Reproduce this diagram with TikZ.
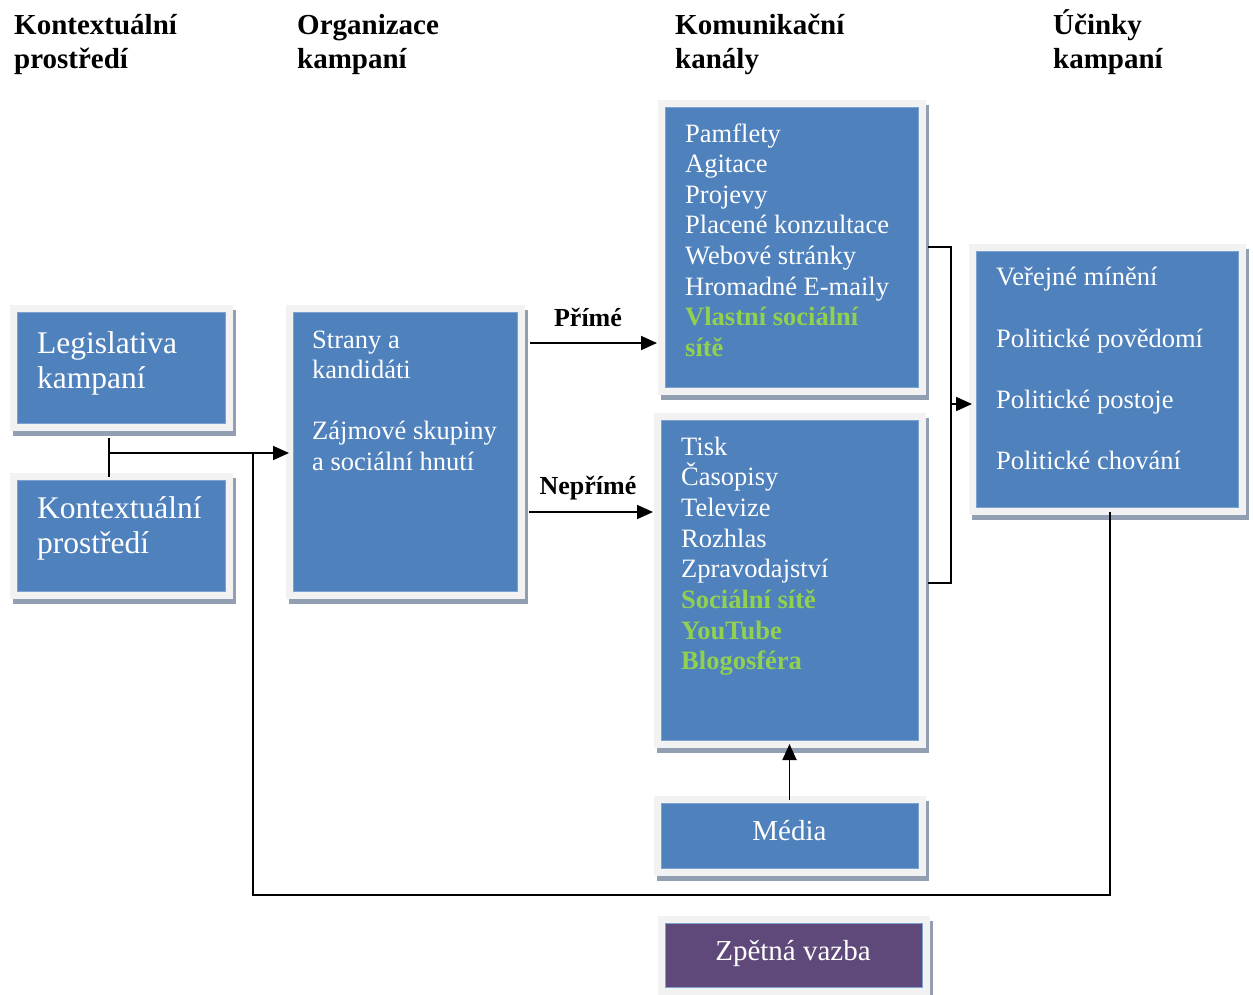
\documentclass[tikz,border=0pt]{standalone}
\usepackage{fontspec}
\setmainfont{Liberation Serif}
\usetikzlibrary{arrows.meta,calc,fit}
\definecolor{boxblue}{HTML}{4F81BD}
\definecolor{boxedge}{HTML}{7DA2D1}
\definecolor{framegray}{HTML}{F2F2F2}
\definecolor{shadowc}{HTML}{929FB3}
\definecolor{purplebox}{HTML}{5F497A}
\definecolor{greentext}{HTML}{92D050}
\newcommand\mypanel[6]{%
  \fill[shadowc] (#2-7.5+3,#3-7.5+5) rectangle (#4+7.5+3,#5+7.5+5);
  \fill[framegray] (#2-7.5,#3-7.5) rectangle (#4+7.5,#5+7.5);
  \node[fit={(#2,#3)(#4,#5)}, inner sep=0pt, outer sep=0pt, fill=#6, draw=boxedge, line width=0.8pt] (#1) {};
}
\tikzset{
  txt/.style={font=\fontsize{26.5}{30.6}\selectfont, text=white, inner sep=0pt, anchor=base west},
  gtxt/.style={font=\fontsize{26.5}{30.6}\selectfont\bfseries, text=greentext, inner sep=0pt, anchor=base west},
  bigtxt/.style={font=\fontsize{31.5}{35}\selectfont, text=white, inner sep=0pt, anchor=base west},
  midtxt/.style={font=\fontsize{29}{33}\selectfont, text=white, inner sep=0pt, anchor=base},
  head/.style={font=\fontsize{29}{34}\selectfont\bfseries, text=black, inner sep=0pt, anchor=base west},
  lab/.style={font=\fontsize{26}{30}\selectfont\bfseries, text=black, inner sep=0pt, anchor=base},
  conn/.style={line width=1.8pt, black},
  arr/.style={conn, -{Triangle[length=16pt,width=14pt]}}
}
\begin{document}
\begin{tikzpicture}[x=1pt,y=-1pt]
\useasboundingbox (0,0) rectangle (1253,994);
\fill[white] (0,0) rectangle (1253,994);
% headers
\node[head] (h1a) at (14,34.3) {Kontextuální};
\node[head] (h1b) at (14,68) {prostředí};
\node[head] (h2a) at (297,34.3) {Organizace};
\node[head] (h2b) at (297,68) {kampaní};
\node[head] (h3a) at (675,34.3) {Komunikační};
\node[head] (h3b) at (675,68) {kanály};
\node[head] (h4a) at (1053,34.3) {Účinky};
\node[head] (h4b) at (1053,68) {kampaní};
% panels
\mypanel{leg}{17}{312}{225}{423}{boxblue}
\mypanel{kon}{17}{480}{225}{591}{boxblue}
\mypanel{org}{293}{312}{517}{591}{boxblue}
\mypanel{dir}{665}{107}{918}{387}{boxblue}
\mypanel{ind}{661}{420}{918}{740}{boxblue}
\mypanel{eff}{976}{251}{1238}{507}{boxblue}
\mypanel{med}{661}{803}{918}{868}{boxblue}
\mypanel{fbk}{665}{923}{922}{987}{purplebox}
% panel texts
\node[bigtxt] (leg1) at (37,353.3) {Legislativa};
\node[bigtxt] (leg2) at (37,388.3) {kampaní};
\node[bigtxt] (kon1) at (37,518) {Kontextuální};
\node[bigtxt] (kon2) at (37,553) {prostředí};
\node[txt] (org1) at (312,348) {Strany a};
\node[txt] (org2) at (312,378.6) {kandidáti};
\node[txt] (org3) at (312,439.8) {Zájmové skupiny};
\node[txt] (org4) at (312,470.4) {a sociální hnutí};
\foreach \t [count=\i from 0] in {Pamflety,Agitace,Projevy,Placené konzultace,Webové stránky,Hromadné E-maily}
  \node[txt] (dir\i) at (685,{142+30.6*\i}) {\t};
\node[gtxt] (dir6) at (685,325.6) {Vlastní sociální};
\node[gtxt] (dir7) at (685,356.2) {sítě};
\foreach \t [count=\i from 0] in {Tisk,Časopisy,Televize,Rozhlas,Zpravodajství}
  \node[txt] (ind\i) at (681,{455+30.7*\i}) {\t};
\node[gtxt] (ind5) at (681,608.5) {Sociální sítě};
\node[gtxt] (ind6) at (681,639.2) {YouTube};
\node[gtxt] (ind7) at (681,669.9) {Blogosféra};
\node[txt] (eff1) at (996,285.5) {Veřejné mínění};
\node[txt] (eff2) at (996,347.5) {Politické povědomí};
\node[txt] (eff3) at (996,408.5) {Politické postoje};
\node[txt] (eff4) at (996,469.5) {Politické chování};
\node[midtxt] (med1) at (789.5,840) {Média};
\node[midtxt] (fbk1) at (793,960) {Zpětná vazba};
% connectors
\coordinate (j1) at (109,453);
\draw[conn] ($(leg.south -| j1)+(0,15)$) -- ($(kon.north -| j1)+(0,-3)$);
\draw[arr] (j1) -- ($(org.west |- j1)+(-4,0)$);
\coordinate (fbt) at ($(eff.south)+(3,5)$);
\coordinate (fbc) at (253,895);
\draw[conn] (fbt) |- (fbc) -- (fbc |- j1);
\coordinate (pa) at (530,343);
\draw[arr] (pa) -- ($(dir.west |- pa)+(-8,0)$);
\node[lab] (lp) at (588,326) {Přímé};
\coordinate (na) at (529,512);
\draw[arr] (na) -- ($(ind.west |- na)+(-8,0)$);
\node[lab] (ln) at (588,494) {Nepřímé};
\coordinate (bx) at (951,404);
\draw[conn] ($(dir.east)+(10,0)$) -| (bx) |- ($(ind.east)+(10,3)$);
\draw[arr] (bx) -- ($(eff.west |- bx)+(-4,0)$);
\draw[arr] ($(med.north)+(0,-3)$) -- ($(ind.south -| med.north)+(0,4)$);
\end{tikzpicture}
\end{document}
